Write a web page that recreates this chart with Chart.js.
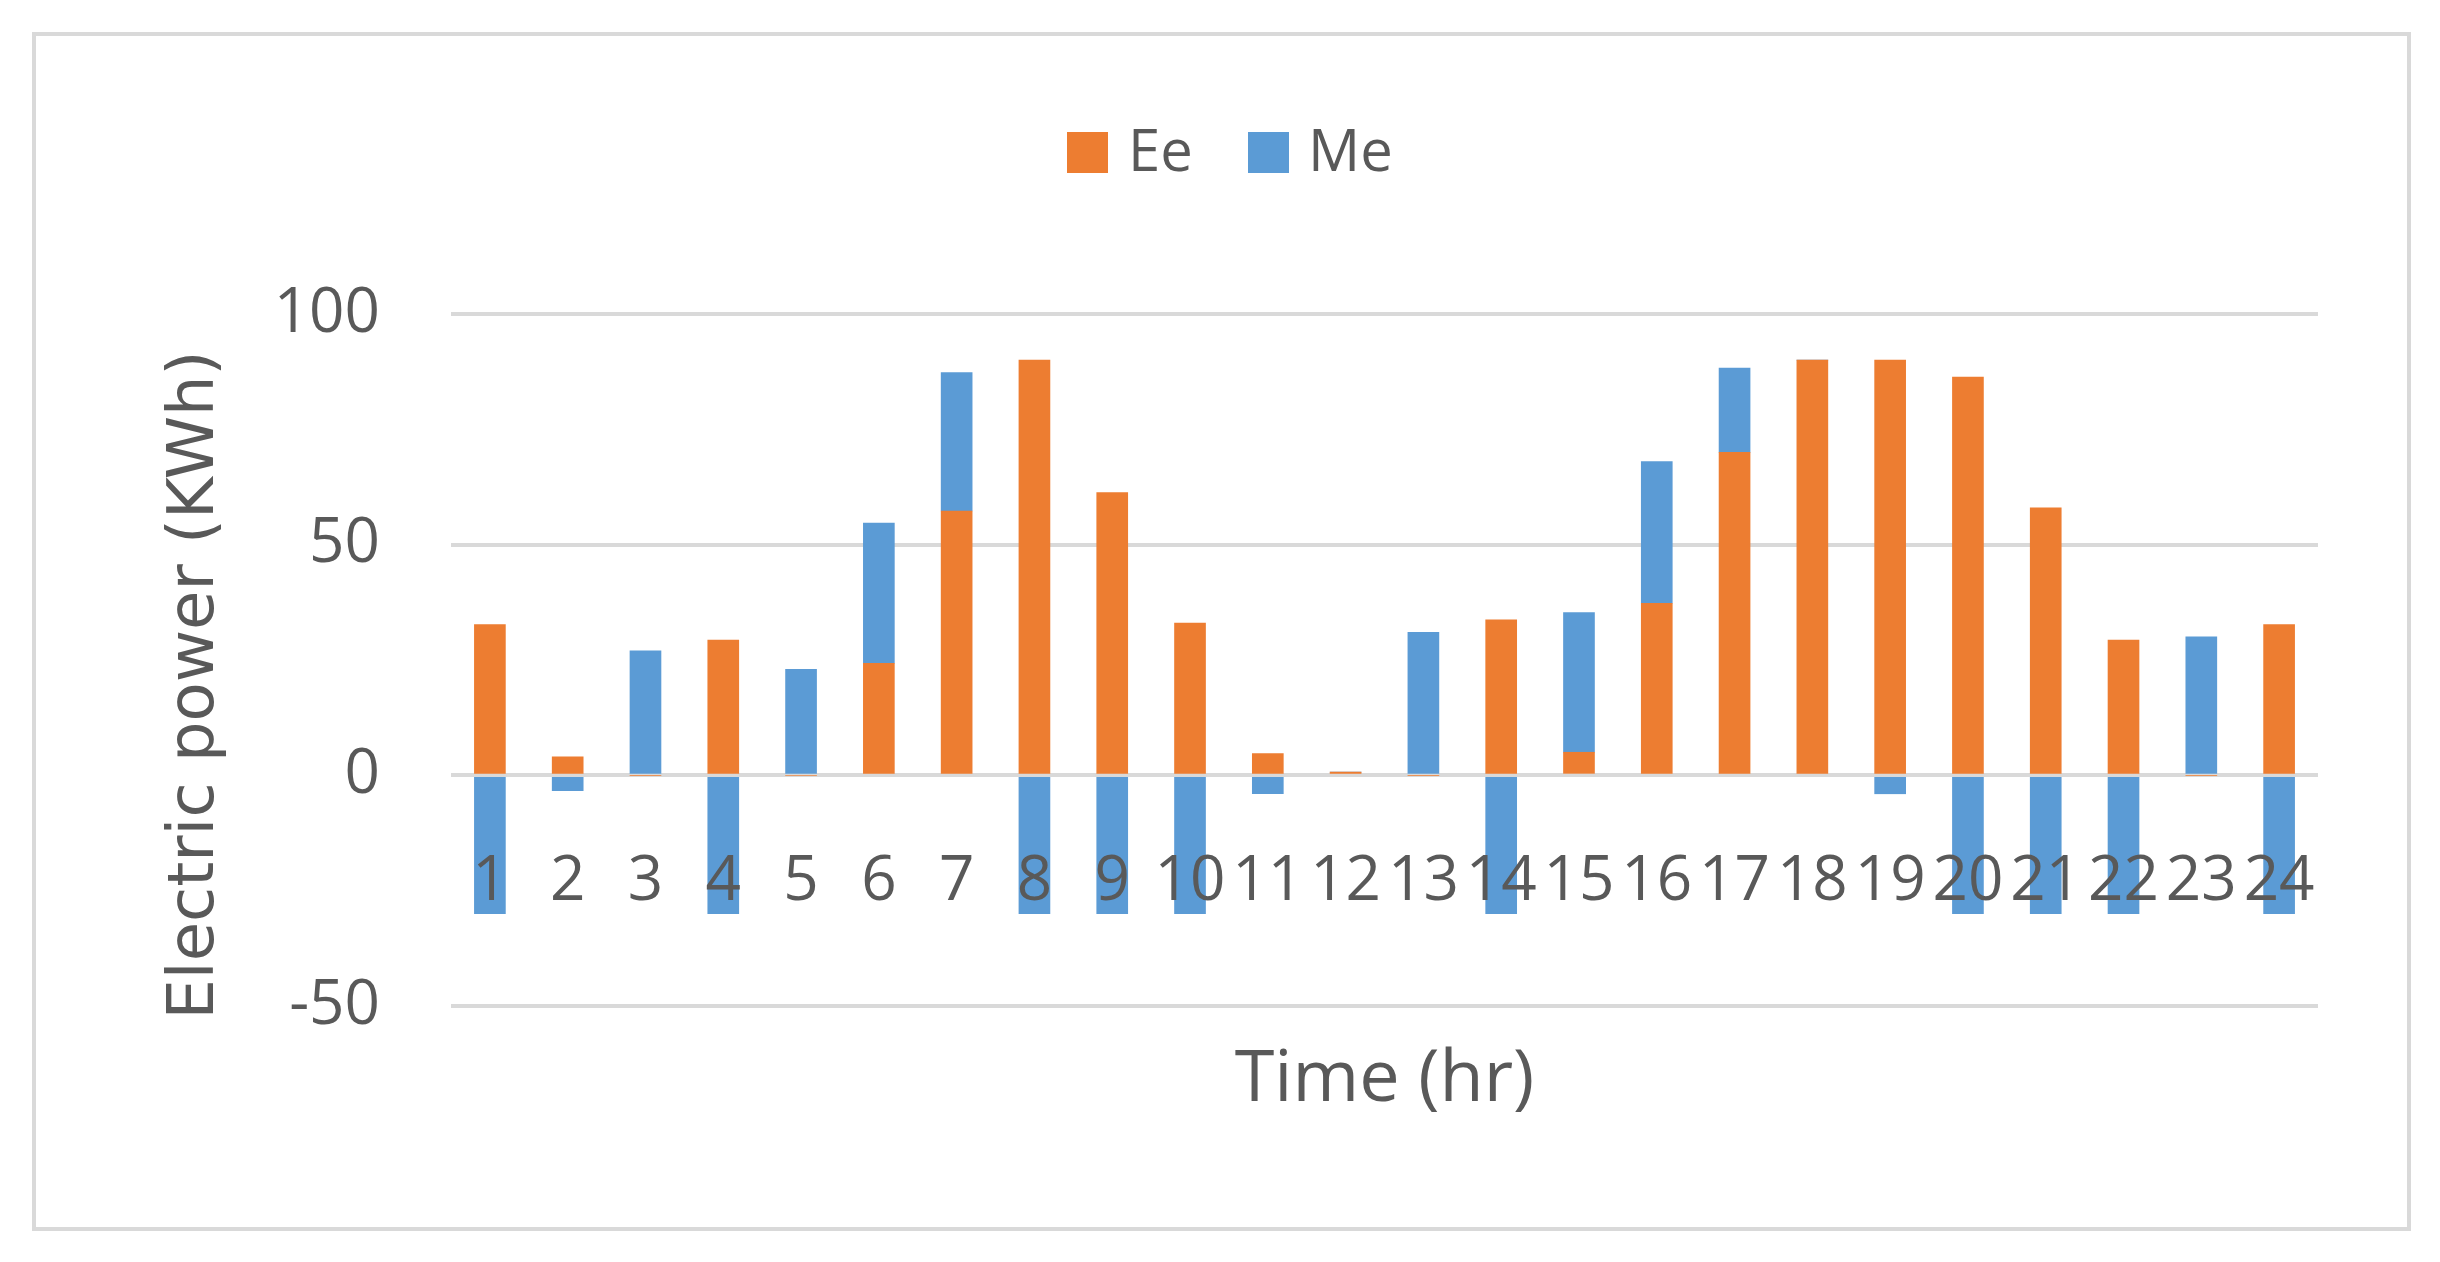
<!DOCTYPE html>
<html><head><meta charset="utf-8">
<script src="https://cdn.jsdelivr.net/npm/chart.js@4/dist/chart.umd.min.js"></script>
<style>html,body{margin:0;padding:0;background:#fff}#w{position:relative;width:2440px;height:1262px}</style>
</head><body><div id="w"><canvas id="c" width="2440" height="1262"></canvas></div>
<script>
const categories = ['1','2','3','4','5','6','7','8','9','10','11','12','13','14','15','16','17','18','19','20','21','22','23','24'];
const eeValues = [32.7,4,0,29.3,0,24.3,57.3,90,61.3,33,4.7,0.7,0,33.7,5,37.3,70,90,90,86.3,58,29.3,0,32.7];
const meValues = [-30,-3.3,27,-30,23,30.4,30,-30,-30,-30,-4,0,31,-30,30.3,30.7,18.3,0,-4,-30,-30,-30,30,-30];
const yTicks = [100,50,0,-50];
const FONT = '"Liberation Sans Narrow","Open Sans",sans-serif';
const TXT = '#595959';

const overlay = {
  id:'overlay',
  afterDraw(chart){
    const ctx = chart.ctx, x = chart.scales.x, y = chart.scales.y;
    ctx.save();
    ctx.strokeStyle = '#d9d9d9'; ctx.lineWidth = 4;
    ctx.strokeRect(34,34,2375,1195);
    ctx.fillStyle = TXT;
    ctx.font = '62px ' + FONT;
    ctx.textAlign = 'right'; ctx.textBaseline = 'middle';
    yTicks.forEach(v => ctx.fillText(String(v), 380, y.getPixelForValue(v)));
    ctx.textAlign = 'center';
    categories.forEach((c,i) => ctx.fillText(c, x.getPixelForValue(i), 882));
    ctx.font = '72px ' + FONT;
    ctx.fillText('Time (hr)', (chart.chartArea.left+chart.chartArea.right)/2, 1080);
    ctx.save();
    ctx.translate(196, 685); ctx.rotate(-Math.PI/2);
    ctx.font = '64px "DejaVu Sans",sans-serif';
    ctx.fillText('Electric power (KWh)', 0, 0);
    ctx.restore();
    // legend
    ctx.font = '58px ' + FONT; ctx.textAlign='left';
    ctx.fillStyle = '#ed7d31'; ctx.fillRect(1067,132,41,41);
    ctx.fillStyle = TXT; ctx.fillText('Ee', 1128, 154);
    ctx.fillStyle = '#5b9bd5'; ctx.fillRect(1248,132,41,41);
    ctx.fillStyle = TXT; ctx.fillText('Me', 1308, 154);
    ctx.restore();
  }
};

new Chart(document.getElementById('c'), {
  type:'bar',
  data:{ labels:categories, datasets:[
    {label:'Ee', data:eeValues, backgroundColor:'#ed7d31', barThickness:31},
    {label:'Me', data:meValues, backgroundColor:'#5b9bd5', barThickness:31}
  ]},
  options:{
    responsive:false, animation:false, devicePixelRatio:1,
    layout:{padding:{left:451,right:122,top:314,bottom:248}},
    plugins:{legend:{display:false},tooltip:{enabled:false}},
    scales:{
      x:{stacked:true, ticks:{display:false}, grid:{display:false}, border:{display:false}},
      y:{stacked:true, min:-50, max:100, ticks:{display:false, stepSize:50},
         grid:{color:'#d9d9d9', lineWidth:4, drawTicks:false}, border:{display:false}}
    }
  },
  plugins:[overlay]
});
</script></body></html>
